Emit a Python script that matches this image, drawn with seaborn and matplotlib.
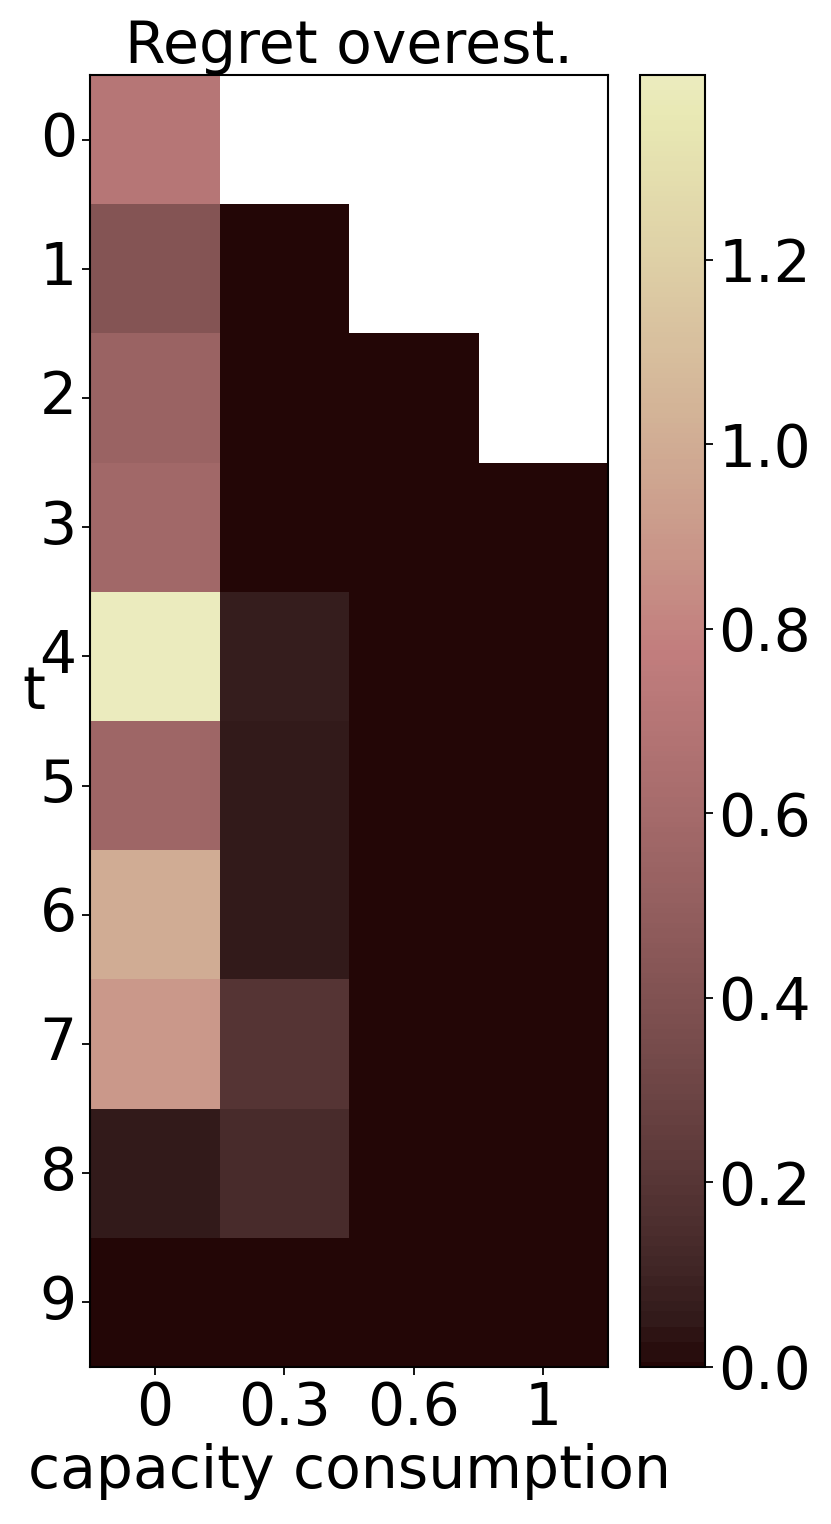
import numpy as np
import pandas as pd
import matplotlib
matplotlib.use("Agg")
import matplotlib.pyplot as plt
from matplotlib.colors import ListedColormap
import seaborn as sns

# ---- data ----
t_labels = ["0", "1", "2", "3", "4", "5", "6", "7", "8", "9"]
cap_labels = ["0", "0.3", "0.6", "1"]
nan = np.nan
col_0 = [0.70, 0.42, 0.54, 0.58, 1.40, 0.56, 1.00, 0.90, 0.06, 0.0]
col_03 = [nan, 0.0, 0.0, 0.0, 0.065, 0.05, 0.055, 0.19, 0.14, 0.0]
col_06 = [nan, nan, 0.0, 0.0, 0.0, 0.0, 0.0, 0.0, 0.0, 0.0]
col_1 = [nan, nan, nan, 0.0, 0.0, 0.0, 0.0, 0.0, 0.0, 0.0]
cbar_ticks = [0.0, 0.2, 0.4, 0.6, 0.8, 1.0, 1.2]

df = pd.DataFrame({c: v for c, v in zip(cap_labels, [col_0, col_03, col_06, col_1])},
                  index=t_labels)

plt.rcParams['font.family'] = ['DejaVu Sans']
FS = 42

# truncated 'pink' colormap with a slight gamma
u = np.linspace(0, 1, 256) ** 1.3
cmap = ListedColormap(plt.cm.pink(0.0075 + 0.7675 * u))

fig = plt.figure(figsize=(8.31, 15.24), dpi=100)
W, H = 831, 1524
ax = fig.add_axes([90 / W, 1 - 1367 / H, 518 / W, 1292 / H])
cax = fig.add_axes([640 / W, 1 - 1367 / H, 65 / W, 1292 / H])

sns.heatmap(df, ax=ax, cbar_ax=cax, cmap=cmap, vmin=0,
            cbar_kws={"ticks": cbar_ticks})

for s in ax.spines.values():
    s.set_visible(True)
    s.set_linewidth(1.5)
    s.set_color("black")

ax.set_title("Regret overest.", fontsize=FS)
ax.set_xlabel("capacity consumption", fontsize=FS)
ax.set_ylabel("t", fontsize=FS, rotation=0)
ax.tick_params(axis="both", labelsize=FS, length=6, width=1.3)
ax.set_yticklabels(t_labels, rotation=0, va="center")
ax.set_xticklabels(cap_labels, rotation=0)

cb = ax.collections[0].colorbar
cb.outline.set_visible(True)
cb.outline.set_linewidth(1.5)
cb.outline.set_edgecolor("black")
cb.ax.tick_params(labelsize=FS, length=6, width=1.3)
cb.ax.set_yticklabels([f"{v:.1f}" for v in cbar_ticks])

fig.savefig("out.png", dpi=100)
